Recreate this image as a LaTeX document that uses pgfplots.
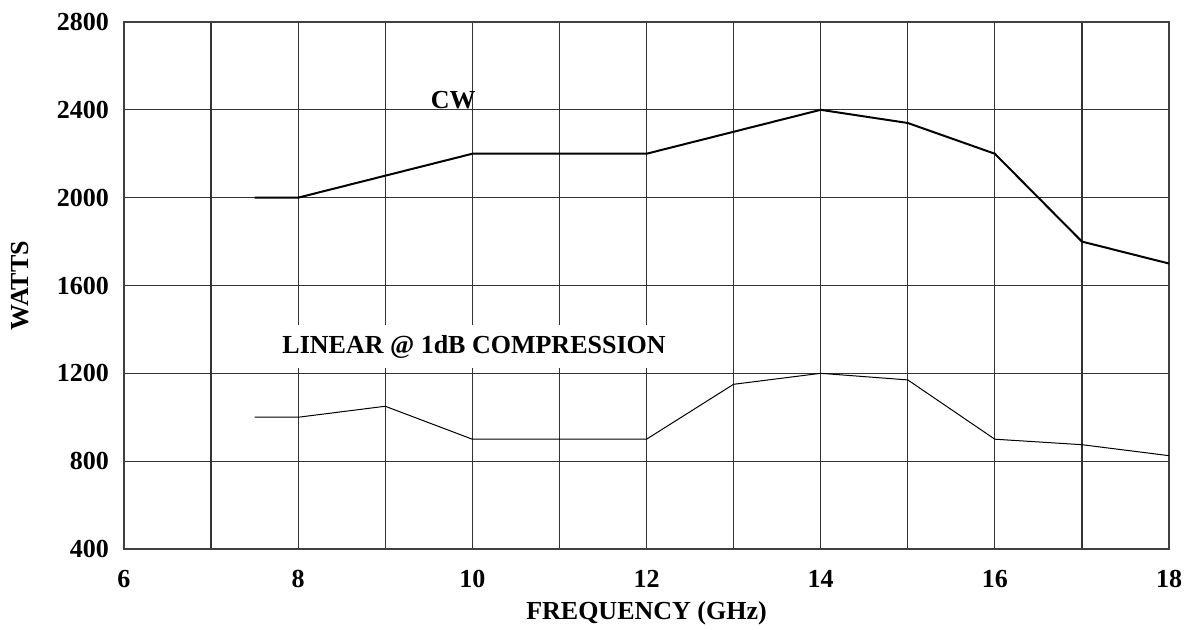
\documentclass[border=0pt]{standalone}
\usepackage{fontspec}
\setmainfont{Liberation Serif}
\usepackage{pgfplots}
\pgfplotsset{compat=1.18}

\begin{document}
\fontsize{13}{15}\selectfont\bfseries
\begin{tikzpicture}
\useasboundingbox (-62pt,-40.5pt) rectangle (530pt,274.5pt);
\begin{axis}[
    at={(0,0)}, anchor=south west,
    scale only axis,
    width=522.5pt, height=263.5pt,
    xmin=6, xmax=18,
    ymin=400, ymax=2800,
    xtick={6,8,...,18},
    minor xtick={7,9,...,17},
    ytick={400,800,...,2800},
    grid=both,
    major grid style={black!80, line width=0.6pt},
    minor grid style={black!80, line width=0.6pt},
    axis line style={black!75, line width=0.6pt},
    major tick length=0pt, minor tick length=0pt,
    /pgf/number format/assume math mode=true,
    /pgf/number format/set thousands separator={},
    tick label style={font=\fontsize{13}{15}\selectfont\bfseries},
    yticklabel style={xshift=-3pt},
    xticklabel style={yshift=-6pt},
    xlabel={FREQUENCY (GHz)},
    ylabel={WATTS},
    label style={font=\fontsize{13}{15}\selectfont\bfseries},
    xlabel style={at={(axis description cs:0.5,0)}, anchor=center, yshift=-32pt},
    ylabel style={at={(axis description cs:0,0.5)}, anchor=center, yshift=52pt},
    clip=false,
]
\addplot[black, line width=1pt] coordinates {
    (7.5,2000)(8,2000)(9,2100)(10,2200)(12,2200)(14,2400)(15,2340)(16,2200)(17,1800)(18,1700)
};
\addplot[black, line width=0.5pt] coordinates {
    (7.5,1000)(8,1000)(9,1050)(10,900)(12,900)(13,1150)(14,1200)(15,1170)(16,900)(17,875)(18,825)
};
\node[fill=white, inner xsep=6pt, inner ysep=5pt] at (axis cs:10.02,1320) {LINEAR @ 1dB COMPRESSION};
\node at (axis cs:9.78,2445) {CW};
\end{axis}
\end{tikzpicture}
\end{document}
